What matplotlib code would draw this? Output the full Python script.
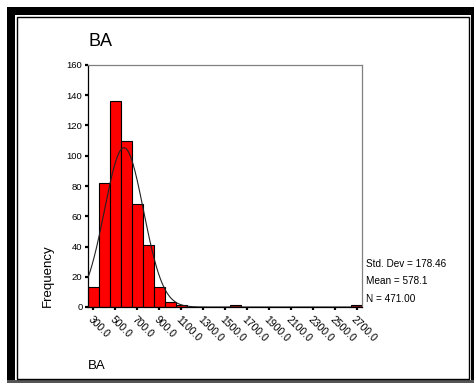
import numpy as np
import matplotlib.pyplot as plt
from matplotlib.patches import Rectangle
from matplotlib.transforms import ScaledTranslation

plt.rcParams['font.family'] = ['Liberation Sans', 'DejaVu Sans']

# histogram of BA (bin midpoints, frequency)
bin_mids = [300, 400, 500, 600, 700, 800, 900, 1000, 1100, 1600, 2700]
counts = [13, 82, 136, 110, 68, 41, 13, 3, 1, 1, 1]
bin_width = 100
x_ticks = list(range(300, 2701, 200))
y_ticks = list(range(0, 161, 20))

std_dev = 178.46
mean = 578.1
n_obs = 471.00

W, H = 474, 383
fig = plt.figure(figsize=(W / 100, H / 100), dpi=100)

def px_rect(x0, y0, x1, y1, **kw):
    # rectangle in pixel coords (origin top-left)
    return Rectangle((x0 / W, 1 - y1 / H), (x1 - x0) / W, (y1 - y0) / H,
                     transform=fig.transFigure, **kw)

# outer frame
fig.add_artist(px_rect(7, 7, 15, 383, color='black', lw=0))
fig.add_artist(px_rect(7, 7, 474, 14.5, color='black', lw=0))
fig.add_artist(px_rect(470.5, 7, 474, 383, color='black', lw=0))
fig.add_artist(px_rect(7, 380, 474, 383, color='#555555', lw=0))
fig.add_artist(px_rect(16.5, 17, 469, 378.5, fill=False, ec='black', lw=1))

ax = fig.add_axes([88 / W, 1 - 307 / H, 274 / W, 242 / H])
ax.bar(bin_mids, counts, width=bin_width, color='#ff0000',
       edgecolor='black', linewidth=0.8, zorder=2)

# fitted normal curve
xs = np.linspace(250, 2750, 600)
ys = n_obs * bin_width / (std_dev * np.sqrt(2 * np.pi)) * np.exp(-0.5 * ((xs - mean) / std_dev) ** 2)
ax.plot(xs, ys, color='#222222', lw=0.8, zorder=3)

ax.set_xlim(250, 2750)
ax.set_ylim(0, 160)
ax.set_yticks(y_ticks)
ax.set_yticklabels([str(v) for v in y_ticks], fontsize=6.8)
ax.set_xticks(x_ticks)
ax.set_xticklabels([f'{v}.0' for v in x_ticks], fontsize=7.5,
                   rotation=-45, ha='left', va='top', rotation_mode='anchor')
offset = ScaledTranslation(0.09, 0, fig.dpi_scale_trans)
for lbl in ax.get_xticklabels():
    lbl.set_transform(lbl.get_transform() + offset)
ax.tick_params(axis='both', length=2, width=1.6, color='black', pad=2)
ax.tick_params(axis='x', pad=3)

for side in ['top', 'right']:
    ax.spines[side].set_color('#808080')
    ax.spines[side].set_linewidth(0.9)
for side in ['left', 'bottom']:
    ax.spines[side].set_color('black')
    ax.spines[side].set_linewidth(0.9)

ax.set_ylabel('Frequency', fontsize=9.5)
ax.yaxis.label.set_ha('left')
ax.yaxis.set_label_coords(-0.124, 0.0, transform=ax.transAxes)

fig.text(88 / W, 1 - 42 / H, 'BA', fontsize=13, ha='left', va='center')
fig.text(88 / W, 1 - 366 / H, 'BA', fontsize=9.5, ha='left', va='center')

fig.text(366 / W, 1 - 264 / H, f'Std. Dev = {std_dev:.2f}', fontsize=7.2, ha='left', va='center')
fig.text(366 / W, 1 - 281 / H, f'Mean = {mean:.1f}', fontsize=7.2, ha='left', va='center')
fig.text(366 / W, 1 - 299 / H, f'N = {n_obs:.2f}', fontsize=7.2, ha='left', va='center')

fig.savefig('out.png', dpi=100)
